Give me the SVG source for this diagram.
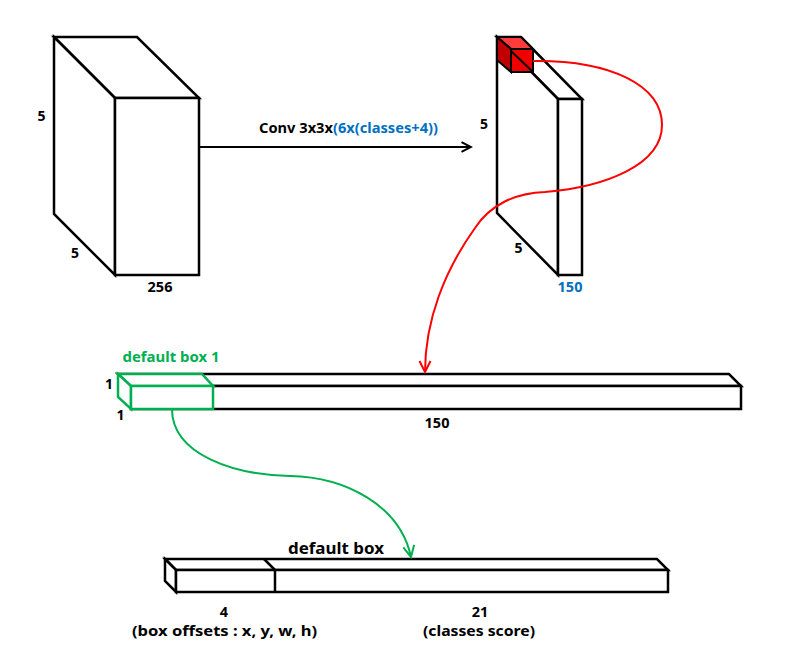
<svg xmlns="http://www.w3.org/2000/svg" width="785" height="667" viewBox="0 0 785 667">
<defs>
<style>
.edge{fill:#fff;stroke:#000;stroke-width:2.5;stroke-linejoin:miter}
.ln{fill:none;stroke:#000;stroke-width:2.5}
.t{font-family:"Noto Sans","Liberation Sans",sans-serif;font-weight:bold;font-size:14px;fill:#000}
.blue{fill:#0070C0}
.green{fill:#00B050}
.gbox{fill:#fff;stroke:#00B050;stroke-width:2.5}
</style>
<marker id="chevK" markerUnits="userSpaceOnUse" markerWidth="12" markerHeight="12" viewBox="0 0 12 12" refX="10.5" refY="6" orient="auto">
<path d="M1,1.2 L10.5,6 L1,10.8" fill="none" stroke="#000" stroke-width="2"/>
</marker>
<marker id="chevR" markerUnits="userSpaceOnUse" markerWidth="14" markerHeight="14" viewBox="0 0 14 14" refX="12" refY="7" orient="auto">
<path d="M1,1.5 L12,7 L1,12.5" fill="none" stroke="#FF0000" stroke-width="2"/>
</marker>
<marker id="chevG" markerUnits="userSpaceOnUse" markerWidth="14" markerHeight="14" viewBox="0 0 14 14" refX="12" refY="7" orient="auto">
<path d="M1,1.5 L12,7 L1,12.5" fill="none" stroke="#00B050" stroke-width="2"/>
</marker>
</defs>
<rect width="785" height="667" fill="#fff"/>

<g id="input-feature-map">
<polygon class="edge" points="54,37 137,37 199,98 115,98"/>
<polygon class="edge" points="54,37 115,98 115,275 54,214"/>
<rect class="edge" x="115" y="98" width="84" height="177"/>
<text class="t" x="41.5" y="121" text-anchor="middle">5</text>
<text class="t" x="75" y="258" text-anchor="middle">5</text>
<text class="t" x="160" y="292" text-anchor="middle" style="font-size:14.5px">256</text>
</g>

<g id="output-feature-map">
<polygon class="edge" points="497,37 521,37 582,99 558,99"/>
<polygon class="edge" points="497,37 558,99 558,275 497,213"/>
<rect class="edge" x="558" y="99" width="24" height="176"/>
<text class="t" x="484" y="129" text-anchor="middle">5</text>
<text class="t" x="518.5" y="252.5" text-anchor="middle">5</text>
<text class="t blue" x="570" y="292" text-anchor="middle" style="font-size:14.5px">150</text>
</g>

<g id="red-cell">
<polygon points="497,37 521,37 533,49 511,49" fill="#FF3B3B" stroke="#000" stroke-width="2"/>
<polygon points="497,37 511,49 511,72 497,60" fill="#C00000" stroke="#000" stroke-width="2"/>
<rect x="511" y="49" width="22" height="23" fill="#F00000" stroke="#000" stroke-width="2"/>
<line x1="511" y1="51" x2="533" y2="72" stroke="#000" stroke-width="2"/>
</g>

<g id="bar-150">
<polygon class="edge" points="118,374 729,374 741,386 131,386"/>
<rect class="edge" x="131" y="386" width="610" height="23"/>
<text class="t" x="437" y="428" text-anchor="middle" style="font-size:14.5px">150</text>
</g>

<g id="default-box-1">
<polygon class="gbox" points="118,374 202,374 213,386 131,386"/>
<polygon class="gbox" points="118,374 131,386 131,409 118,397"/>
<rect class="gbox" x="131" y="386" width="82" height="23"/>
<text class="t green" x="122.5" y="361.5" style="font-size:15px" textLength="97" lengthAdjust="spacingAndGlyphs">default box 1</text>
<text class="t" x="109" y="389" text-anchor="middle">1</text>
<text class="t" x="120.5" y="420" text-anchor="middle">1</text>
</g>

<g id="default-box">
<polygon class="edge" points="165,559 657,559 668,570 176,570"/>
<polygon class="edge" points="165,559 176,570 176,592 165,581"/>
<rect class="edge" x="176" y="570" width="492" height="22"/>
<line class="ln" x1="264" y1="559" x2="275" y2="570"/>
<line class="ln" x1="275" y1="570" x2="275" y2="592"/>
<text class="t" x="288" y="554" style="font-size:16px" textLength="96" lengthAdjust="spacingAndGlyphs">default box</text>
<text class="t" x="224" y="617" text-anchor="middle" style="font-size:14.5px">4</text>
<text class="t" x="132" y="635.5" style="font-size:15px" textLength="185" lengthAdjust="spacingAndGlyphs">(box offsets : x, y, w, h)</text>
<text class="t" x="480" y="617" text-anchor="middle" style="font-size:14.5px">21</text>
<text class="t" x="423" y="635.5" style="font-size:15px" textLength="112" lengthAdjust="spacingAndGlyphs">(classes score)</text>
</g>

<g id="connectors">
<line x1="199" y1="147" x2="471" y2="147" stroke="#000" stroke-width="2" marker-end="url(#chevK)"/>
<text class="t" x="259" y="133" style="font-size:14.5px" textLength="179" lengthAdjust="spacingAndGlyphs">Conv 3x3x<tspan class="blue">(6x(classes+4))</tspan></text>
<path d="M533,61 C610,60 662,85 662,125 C662,165 605,187 545,192 C515,193 490,205 475,228 C445,270 425,320 425,372" fill="none" stroke="#FF0000" stroke-width="2" marker-end="url(#chevR)"/>
<path d="M172,409 C172,455 235,475 290,476 C345,477 400,505 411,557" fill="none" stroke="#00B050" stroke-width="2" marker-end="url(#chevG)"/>
</g>
</svg>
